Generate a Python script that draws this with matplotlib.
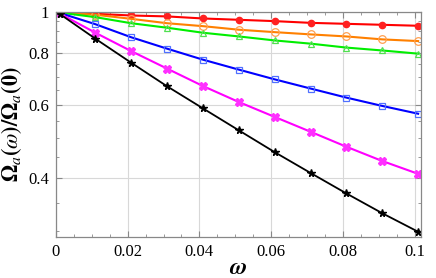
import matplotlib
matplotlib.use("Agg")
import matplotlib.pyplot as plt
from matplotlib.ticker import FixedLocator, FixedFormatter, NullFormatter, MultipleLocator

plt.rcParams['font.family'] = ['Liberation Serif', 'DejaVu Serif']
plt.rcParams['mathtext.fontset'] = 'stix'

# sample points (omega)
omega = [0.001, 0.011, 0.021, 0.031, 0.041, 0.051, 0.061, 0.071, 0.081, 0.091, 0.101]

# ratio Omega_a(omega)/Omega_a(0)
red = [0.999, 0.990, 0.981, 0.976, 0.965, 0.958, 0.951, 0.942, 0.937, 0.932, 0.927]
orange = [0.998, 0.985, 0.963, 0.940, 0.925, 0.907, 0.895, 0.884, 0.874, 0.860, 0.852]
green = [0.997, 0.972, 0.940, 0.917, 0.892, 0.874, 0.855, 0.840, 0.822, 0.809, 0.795]
blue = [0.995, 0.935, 0.870, 0.817, 0.769, 0.728, 0.690, 0.656, 0.624, 0.596, 0.571]
magenta = [0.992, 0.892, 0.806, 0.732, 0.665, 0.609, 0.561, 0.517, 0.476, 0.440, 0.410]
black = [0.990, 0.863, 0.756, 0.664, 0.588, 0.521, 0.462, 0.412, 0.368, 0.330, 0.298]

fig = plt.figure(figsize=(4.36, 2.78), dpi=100)
ax = fig.add_axes([0.1284, 0.1486, 0.8372, 0.8082])

ax.plot(omega, red, color='#ff0000', lw=1.5, marker='o', ms=4.5,
        mfc='#ff2020', mec='#ff2020')
ax.plot(omega, orange, color='#ff8000', lw=1.5, marker='o', ms=5.5,
        mfc='none', mec='#ffa050', mew=0.9)
ax.plot(omega, green, color='#00ee00', lw=1.5, marker='^', ms=4.5,
        mfc='none', mec='#50e050', mew=0.9)
ax.plot(omega, blue, color='#0000ff', lw=1.5, marker='s', ms=3.8,
        mfc='none', mec='#5070ff', mew=0.9)
ax.plot(omega, magenta, color='#ff00ff', lw=1.5, marker='X', ms=6,
        mfc='#ff30ff', mec='#ff30ff')
ax.plot(omega, black, color='black', lw=1.3, marker='*', ms=5.5,
        mfc='black', mec='black')

ax.set_yscale('log')
ax.set_xlim(0, 0.1018)
ax.set_ylim(0.29, 1.0)

ax.xaxis.set_major_locator(FixedLocator([0, 0.02, 0.04, 0.06, 0.08, 0.1]))
ax.xaxis.set_major_formatter(FixedFormatter(['0', '0.02', '0.04', '0.06', '0.08', '0.1']))
ax.xaxis.set_minor_locator(MultipleLocator(0.005))

ax.yaxis.set_major_locator(FixedLocator([0.4, 0.6, 0.8, 1.0]))
ax.yaxis.set_major_formatter(FixedFormatter(['0.4', '0.6', '0.8', '1']))
ax.yaxis.set_minor_locator(FixedLocator([0.3, 0.35, 0.45, 0.5, 0.55, 0.65, 0.7, 0.75, 0.85, 0.9, 0.95]))
ax.yaxis.set_minor_formatter(NullFormatter())

ax.grid(True, which='major', color='#d8d8d8', lw=0.8)
ax.set_axisbelow(True)

for s in ax.spines.values():
    s.set_color('#888888')
    s.set_linewidth(0.9)
ax.tick_params(which='both', direction='in', top=True, right=True,
               color='#888888', labelsize=12, pad=5)
ax.tick_params(which='major', length=4)
ax.tick_params(which='minor', length=2.5)

ax.set_xlabel(r'$\boldsymbol{\omega}$', fontsize=17, labelpad=-1)
ax.set_ylabel(r'$\mathbf{\Omega}_a\mathbf{(}\omega\mathbf{)/\Omega}_a\mathbf{(0)}$',
              fontsize=16, labelpad=3)

fig.savefig('out.png', dpi=100)
